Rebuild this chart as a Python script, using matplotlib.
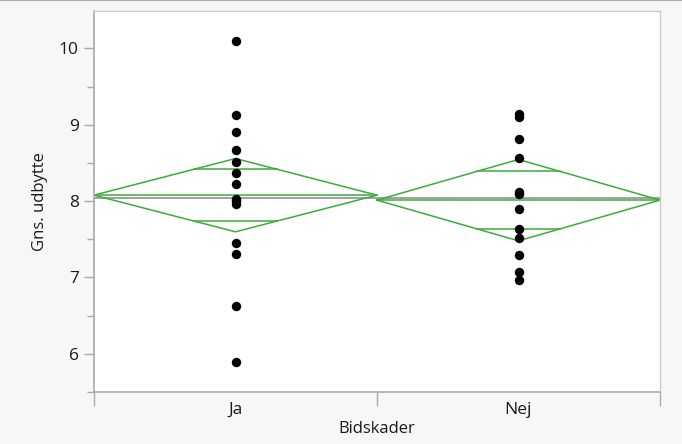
import numpy as np
import matplotlib
matplotlib.use('Agg')
import matplotlib.pyplot as plt
from matplotlib.lines import Line2D
from matplotlib.ticker import MultipleLocator

groups = ['Ja', 'Nej']
ja_vals = [10.10, 9.13, 8.90, 8.67, 8.51, 8.37, 8.22, 8.03, 8.00, 7.96, 7.45, 7.31, 6.62, 5.89]
nej_vals = [9.14, 9.10, 8.81, 8.57, 8.12, 8.09, 7.90, 7.64, 7.52, 7.30, 7.07, 6.97]

# means diamonds: group mean and 95% CI half width
group_means = [8.078, 8.013]
ci_half = [0.48, 0.533]
grand_mean = 8.044

green = '#3dab3d'

plt.rcParams['font.family'] = ['Open Sans', 'DejaVu Sans']

fig = plt.figure(figsize=(6.82, 4.44), dpi=100)
fig.patch.set_facecolor('#f7f7f7')
ax = fig.add_axes([94/682, 1-392/444, 566/682, 381/444])
ax.set_facecolor('white')

# grand mean line
ax.axhline(grand_mean, color='#999999', lw=1.3, zorder=1)

for i, (m, c) in enumerate(zip(group_means, ci_half)):
    x0, x1, xc = i, i + 1, i + 0.5
    ax.plot([x0, xc, x1, xc, x0], [m, m + c, m, m - c, m], color=green, lw=1.1, zorder=2)
    ax.plot([x0, x1], [m, m], color=green, lw=1.1, zorder=2)
    # overlap marks, from one diamond edge to the other
    h = c / np.sqrt(2)
    dx = 0.5 / np.sqrt(2)
    for s in (1, -1):
        ax.plot([x0 + dx, x1 - dx], [m + s * h, m + s * h], color=green, lw=1.1, zorder=2)

for i, vals in enumerate([ja_vals, nej_vals]):
    ax.scatter(np.full(len(vals), i + 0.5), vals, s=46, color='black', zorder=3, linewidths=0)

ax.set_xlim(0, 2)
ax.set_ylim(5.5, 10.49)

ax.set_xticks([0, 1, 2])
ax.set_xticklabels([])
ax.set_xticks([0.5, 1.5], minor=True)
ax.set_xticklabels(groups, minor=True, fontsize=12.5, color='#1a1a1a')
ax.tick_params(axis='x', which='major', length=10, width=1, color='#aaaaaa', direction='out')
ax.tick_params(axis='x', which='minor', length=0, pad=7)

ax.yaxis.set_major_locator(MultipleLocator(1))
ax.yaxis.set_minor_locator(MultipleLocator(0.5))
ax.tick_params(axis='y', which='major', length=7, width=1, color='#aaaaaa', labelsize=12.5,
               labelcolor='#1a1a1a', pad=4)
ax.tick_params(axis='y', which='minor', length=5, width=1, color='#aaaaaa')

for side in ['left', 'bottom']:
    ax.spines[side].set_color('#aaaaaa')
    ax.spines[side].set_linewidth(1.2)
for side in ['top', 'right']:
    ax.spines[side].set_color('#cccccc')
    ax.spines[side].set_linewidth(1.0)

ax.set_xlabel('Bidskader', fontsize=12, color='#1a1a1a', labelpad=2)
ax.set_ylabel('Gns. udbytte', fontsize=12, color='#1a1a1a', labelpad=8)

fig.add_artist(Line2D([0, 1], [0.999, 0.999], color='#aaaaaa', lw=1.5, transform=fig.transFigure))

fig.savefig('out.png', dpi=100, facecolor=fig.get_facecolor())
